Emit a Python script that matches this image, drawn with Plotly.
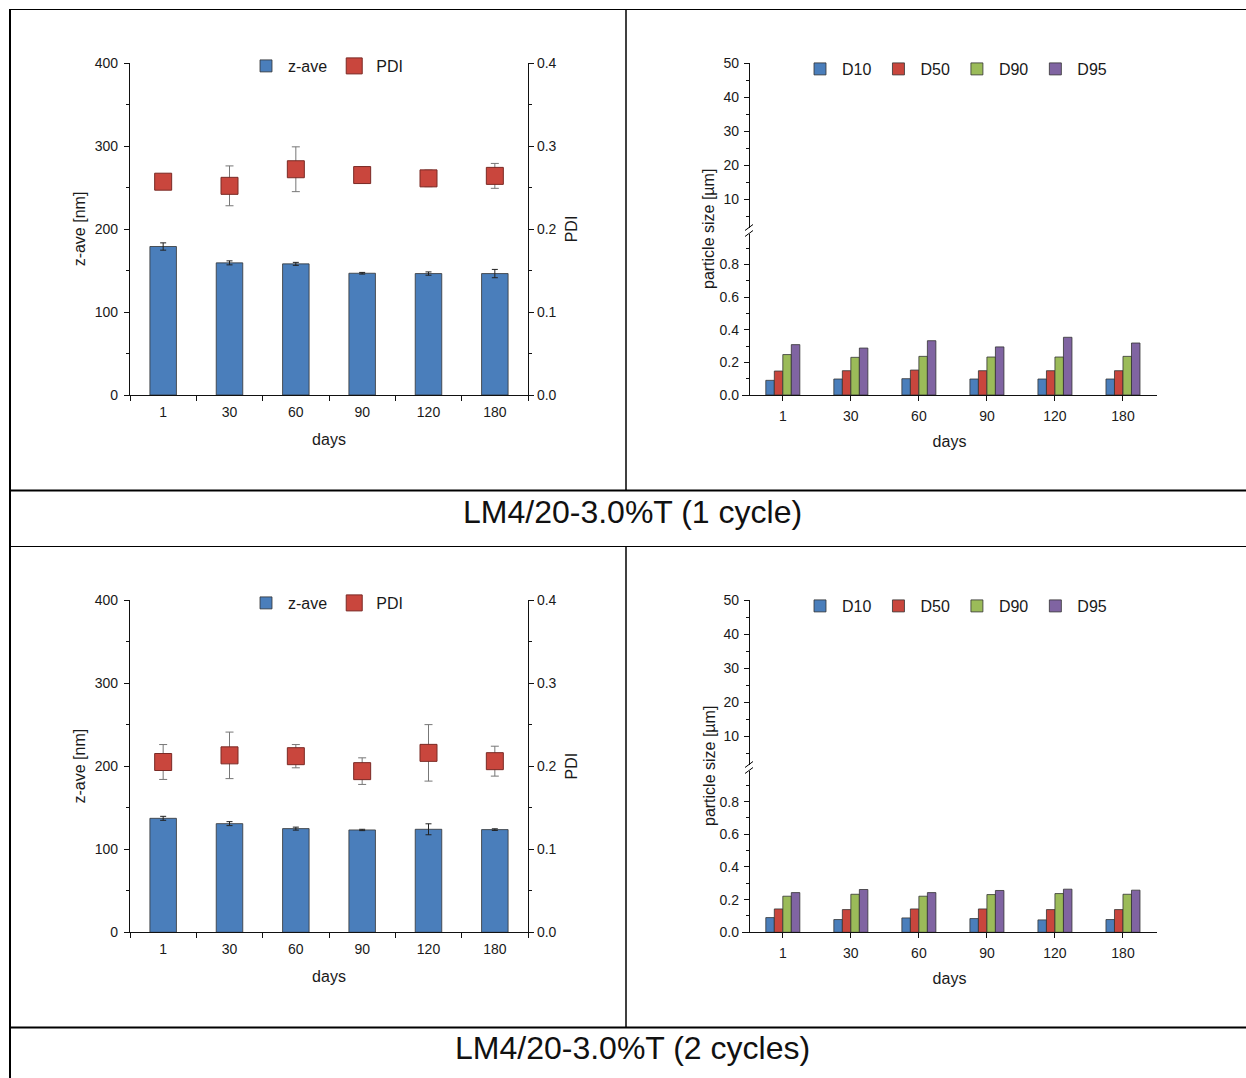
import plotly.graph_objects as go

W, H = 1246, 1078
def X(px): return px / W
def Y(py): return 1 - py / H

# ---------------- data ----------------
days = ["1", "30", "60", "90", "120", "180"]

# 1 cycle
zave_1 = [178.9, 159.2, 158.0, 146.7, 146.3, 146.3]
zave_err_1 = [4.4, 2.4, 1.8, 1.0, 2.0, 5.0]
pdi_1 = [0.257, 0.252, 0.272, 0.265, 0.261, 0.264]
pdi_err_1 = [0.008, 0.024, 0.027, 0.010, 0.010, 0.015]
d10_1 = [0.090, 0.098, 0.100, 0.098, 0.098, 0.098]
d50_1 = [0.147, 0.149, 0.153, 0.149, 0.149, 0.149]
d90_1 = [0.248, 0.231, 0.237, 0.233, 0.233, 0.237]
d95_1 = [0.309, 0.288, 0.333, 0.295, 0.354, 0.319]

# 2 cycles
zave_2 = [137.2, 130.8, 124.8, 123.2, 124.0, 123.6]
zave_err_2 = [2.4, 2.4, 1.8, 0.8, 6.6, 1.0]
pdi_2 = [0.205, 0.213, 0.212, 0.194, 0.216, 0.206]
pdi_err_2 = [0.021, 0.028, 0.014, 0.016, 0.034, 0.018]
d10_2 = [0.090, 0.078, 0.088, 0.084, 0.076, 0.078]
d50_2 = [0.143, 0.139, 0.143, 0.143, 0.139, 0.139]
d90_2 = [0.221, 0.233, 0.221, 0.231, 0.237, 0.233]
d95_2 = [0.243, 0.262, 0.243, 0.256, 0.264, 0.258]

captions = ["LM4/20-3.0%T (1 cycle)", "LM4/20-3.0%T (2 cycles)"]
size_names = ["D10", "D50", "D90", "D95"]
size_colors = ["#4A7EBB", "#C9463D", "#9BBB59", "#8064A2"]
BLUE = "#4A7EBB"
RED = "#C9463D"
FONT = "Liberation Sans, Arial, sans-serif"
INK = "#1a1a1a"

fig = go.Figure()

def zpanel(xa, ya, ya2, zave, zerr, pdi, perr, leg):
    fig.add_trace(go.Bar(
        x=days, y=zave, name="z-ave", width=0.4,
        marker=dict(color=BLUE, line=dict(color="#333333", width=0.8)),
        error_y=dict(type="data", array=zerr, color="#222222", thickness=1, width=3),
        xaxis=xa, yaxis=ya, legend=leg))
    fig.add_trace(go.Scatter(
        x=days, y=pdi, name="PDI", mode="markers",
        marker=dict(symbol="square", size=17, color=RED, line=dict(color="#7a2a25", width=1)),
        error_y=dict(type="data", array=perr, color="#777777", thickness=1, width=4),
        xaxis=xa, yaxis=ya2, legend=leg))

def dpanel(xa, ya, ya_up, series, leg):
    for name, col, vals in zip(size_names, size_colors, series):
        fig.add_trace(go.Bar(
            x=days, y=vals, name=name,
            marker=dict(color=col, line=dict(color="#333333", width=0.8)),
            xaxis=xa, yaxis=ya, legend=leg))
    fig.add_trace(go.Scatter(x=[], y=[], xaxis=xa, yaxis=ya_up, showlegend=False, hoverinfo="skip"))

zpanel("x", "y", "y2", zave_1, zave_err_1, pdi_1, pdi_err_1, "legend")
dpanel("x2", "y3", "y4", [d10_1, d50_1, d90_1, d95_1], "legend2")
zpanel("x3", "y5", "y6", zave_2, zave_err_2, pdi_2, pdi_err_2, "legend3")
dpanel("x4", "y7", "y8", [d10_2, d50_2, d90_2, d95_2], "legend4")

tickfont = dict(family=FONT, size=14, color=INK)
titlefont = dict(family=FONT, size=16, color=INK)
axbase = dict(showline=True, linecolor="#111111", linewidth=1.3, showgrid=False,
              zeroline=False, ticks="outside", tickcolor="#111111", tickfont=tickfont,
              ticklen=5, tickwidth=1.2, automargin=False)

def xcat(domain, anchor, rng, boundaries, lab_off, title_off):
    d = dict(axbase)
    d.update(domain=[X(domain[0]), X(domain[1])], anchor=anchor, type="category",
             categoryarray=days, categoryorder="array", range=rng,
             ticklabelstandoff=lab_off,
             title=dict(text="days", font=titlefont, standoff=title_off))
    if boundaries:
        d["tickson"] = "boundaries"
    return d

layout = dict(
    width=W, height=H, autosize=False, margin=dict(l=0, r=0, t=0, b=0, pad=0),
    paper_bgcolor="white", plot_bgcolor="white",
    barmode="group", bargap=0.5, bargroupgap=0.0,
    font=dict(family=FONT, color=INK),
)

minor_l = dict(tickvals=[50, 150, 250, 350], ticklen=3, ticks="outside", tickcolor="#111111")
minor_r = dict(tickvals=[0.05, 0.15, 0.25, 0.35], ticklen=3, ticks="outside", tickcolor="#111111")

layout["xaxis"] = xcat((130, 528), "y", [-0.5, 5.5], True, 4, 14)
layout["yaxis"] = dict(axbase, domain=[Y(395), Y(63)], anchor="x", range=[0, 400],
                       tickvals=[0, 100, 200, 300, 400], minor=minor_l, ticklabelstandoff=3,
                       title=dict(text="z-ave [nm]", font=titlefont, standoff=5))
layout["yaxis2"] = dict(axbase, overlaying="y", side="right", anchor="x", range=[0, 0.4],
                        tickvals=[0, 0.1, 0.2, 0.3, 0.4], tickformat=".1f", minor=minor_r,
                        title=dict(text="PDI", font=titlefont, standoff=10))
layout["xaxis3"] = xcat((130, 528), "y5", [-0.5, 5.5], True, 4, 14)
layout["yaxis5"] = dict(axbase, domain=[Y(932.3), Y(600)], anchor="x3", range=[0, 400],
                        tickvals=[0, 100, 200, 300, 400], minor=minor_l, ticklabelstandoff=3,
                        title=dict(text="z-ave [nm]", font=titlefont, standoff=5))
layout["yaxis6"] = dict(axbase, overlaying="y5", side="right", anchor="x3", range=[0, 0.4],
                        tickvals=[0, 0.1, 0.2, 0.3, 0.4], tickformat=".1f", minor=minor_r,
                        title=dict(text="PDI", font=titlefont, standoff=10))

def right_axes(xname, ylo, yup, y_zero, y_break, y_top):
    layout["xaxis" + xname[1:]] = xcat((742, 1157), ylo, [-0.6, 5.5], False, 3, 12)
    layout["yaxis" + ylo[1:]] = dict(axbase, domain=[Y(y_zero), Y(y_break)], anchor="free",
                                     position=X(749), range=[0, 1.006], ticklabelstandoff=2,
                                     tickvals=[0, 0.2, 0.4, 0.6, 0.8], tickformat=".1f",
                                     minor=dict(tickvals=[0.1, 0.3, 0.5, 0.7, 0.9], ticklen=3,
                                                ticks="outside", tickcolor="#111111"))
    layout["yaxis" + yup[1:]] = dict(axbase, domain=[Y(y_break), Y(y_top)], anchor="free",
                                     position=X(749), range=[0.6, 50], ticklabelstandoff=2,
                                     tickvals=[10, 20, 30, 40, 50],
                                     minor=dict(tickvals=[5, 15, 25, 35, 45], ticklen=3,
                                                ticks="outside", tickcolor="#111111"))

right_axes("x2", "y3", "y4", 395, 231, 63.3)
right_axes("x4", "y7", "y8", 932.3, 768, 600)

legfont = dict(family=FONT, size=16, color=INK)
for key, lx, ly in (("legend", 244, 66), ("legend2", 798, 69),
                    ("legend3", 244, 603), ("legend4", 798, 606)):
    layout[key] = dict(orientation="h", x=X(lx), y=Y(ly), xanchor="left", yanchor="middle",
                       font=legfont, bgcolor="rgba(0,0,0,0)", itemwidth=34)

ann = []
for txt, cy in zip(captions, (512, 1048)):
    ann.append(dict(text=txt, x=X(632), y=Y(cy), xref="paper", yref="paper",
                    xanchor="center", yanchor="middle", showarrow=False,
                    font=dict(family=FONT, size=32, color="#111111")))
for cy in (229, 766):
    ann.append(dict(text="particle size [µm]", x=X(709), y=Y(cy), xref="paper", yref="paper",
                    xanchor="center", yanchor="middle", showarrow=False, textangle=-90,
                    font=titlefont))
layout["annotations"] = ann

shapes = []
def line(x0, y0, x1, y1, w=1.5, c="black"):
    shapes.append(dict(type="line", xref="paper", yref="paper",
                       x0=X(x0), y0=Y(y0), x1=X(x1), y1=Y(y1), line=dict(color=c, width=w)))
line(10, 9.5, 1246, 9.5, 1.2)
line(10, 9, 10, 1078, 2)
line(626, 10, 626, 490, 1.5)
line(626, 547, 626, 1027, 1.5)
line(10, 490.5, 1246, 490.5, 2)
line(10, 546.5, 1246, 546.5, 1.2)
line(10, 1027.5, 1246, 1027.5, 2)
for yb in (231, 768):
    line(749, yb - 3, 749, yb + 3, 3, "white")
    line(745, yb - 0.5, 753, yb - 6.5, 1)
    line(745, yb + 5.5, 753, yb - 0.5, 1)
layout["shapes"] = shapes

fig.update_layout(**layout)
fig.write_html("out.html",
               config={"displayModeBar": False, "responsive": False},
               post_script="document.body.style.margin='0';document.body.style.overflow='hidden';")
